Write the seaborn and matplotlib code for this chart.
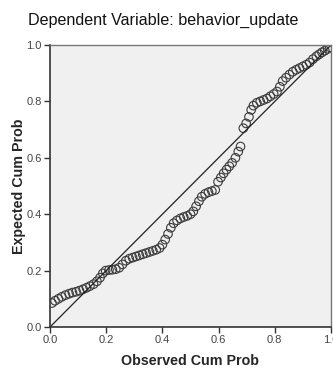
import seaborn as sns
import matplotlib.pyplot as plt
import pandas as pd

# Observed vs expected cumulative probability
observed = [0.007, 0.018, 0.030, 0.042, 0.055, 0.068, 0.080, 0.093, 0.105, 0.118,
            0.130, 0.142, 0.155, 0.167, 0.178, 0.188, 0.198, 0.210, 0.222, 0.234,
            0.246, 0.258, 0.270, 0.282, 0.294, 0.306, 0.318, 0.330, 0.342, 0.354,
            0.366, 0.378, 0.390, 0.400, 0.410, 0.420, 0.430, 0.440, 0.452, 0.464,
            0.476, 0.488, 0.500, 0.510, 0.520, 0.530, 0.540, 0.552, 0.564, 0.576,
            0.588, 0.598, 0.608, 0.618, 0.628, 0.638, 0.648, 0.660, 0.670, 0.678,
            0.688, 0.698, 0.708, 0.716, 0.724, 0.736, 0.748, 0.760, 0.772, 0.784,
            0.796, 0.808, 0.818, 0.828, 0.840, 0.852, 0.864, 0.876, 0.888, 0.900,
            0.912, 0.924, 0.936, 0.948, 0.958, 0.968, 0.978, 0.988, 0.996]
expected = [0.085, 0.093, 0.100, 0.107, 0.113, 0.118, 0.122, 0.125, 0.129, 0.134,
            0.139, 0.145, 0.152, 0.162, 0.175, 0.190, 0.200, 0.202, 0.203, 0.205,
            0.210, 0.222, 0.235, 0.242, 0.246, 0.250, 0.254, 0.258, 0.262, 0.266,
            0.270, 0.274, 0.280, 0.292, 0.310, 0.330, 0.352, 0.368, 0.378, 0.385,
            0.390, 0.394, 0.400, 0.410, 0.428, 0.446, 0.462, 0.472, 0.478, 0.482,
            0.486, 0.515, 0.530, 0.545, 0.558, 0.570, 0.582, 0.600, 0.622, 0.640,
            0.705, 0.722, 0.745, 0.770, 0.785, 0.795, 0.800, 0.805, 0.810, 0.818,
            0.826, 0.835, 0.852, 0.872, 0.884, 0.895, 0.905, 0.912, 0.918, 0.924,
            0.930, 0.938, 0.950, 0.960, 0.967, 0.974, 0.980, 0.986, 0.992]
diagonal = [0.0, 1.0]
ticks = [0.0, 0.2, 0.4, 0.6, 0.8, 1.0]

df = pd.DataFrame({'observed': observed, 'expected': expected})

sns.set_style('white')
plt.rcParams['font.family'] = ['Liberation Sans', 'DejaVu Sans']

fig = plt.figure(figsize=(3.33, 3.70), dpi=100)
ax = fig.add_axes([50 / 333, 43 / 370, 281 / 333, 282 / 370])
ax.set_facecolor('#f0f0f0')

# reference line
sns.lineplot(x=diagonal, y=diagonal, ax=ax, color='#222222', linewidth=0.9)

# P-P points as open circles
sns.scatterplot(data=df, x='observed', y='expected', ax=ax, marker='o', s=38,
                linewidth=0.8, edgecolor='#3a3a3a')
ax.collections[-1].set_facecolor('none')

ax.set_xlim(0, 1)
ax.set_ylim(0, 1)
ax.set_xticks(ticks)
ax.set_yticks(ticks)
ax.set_xticklabels([f'{t:.1f}' for t in ticks])
ax.set_yticklabels([f'{t:.1f}' for t in ticks])
ax.tick_params(direction='out', length=4, width=1, color='#333333',
               labelsize=8, labelcolor='#444444', bottom=True, left=True, pad=2)

for side in ['left', 'bottom']:
    ax.spines[side].set_color('#333333')
    ax.spines[side].set_linewidth(1.2)
for side in ['top', 'right']:
    ax.spines[side].set_color('#777777')
    ax.spines[side].set_linewidth(1.0)

ax.set_xlabel('Observed Cum Prob', fontsize=10.3, fontweight='bold', labelpad=6)
ax.set_ylabel('Expected Cum Prob', fontsize=10.3, fontweight='bold', labelpad=0)
fig.text(0.49, 0.945, 'Dependent Variable: behavior_update', ha='center',
         va='center', fontsize=11.6, color='#111111')

plt.savefig('out.png', dpi=100)
